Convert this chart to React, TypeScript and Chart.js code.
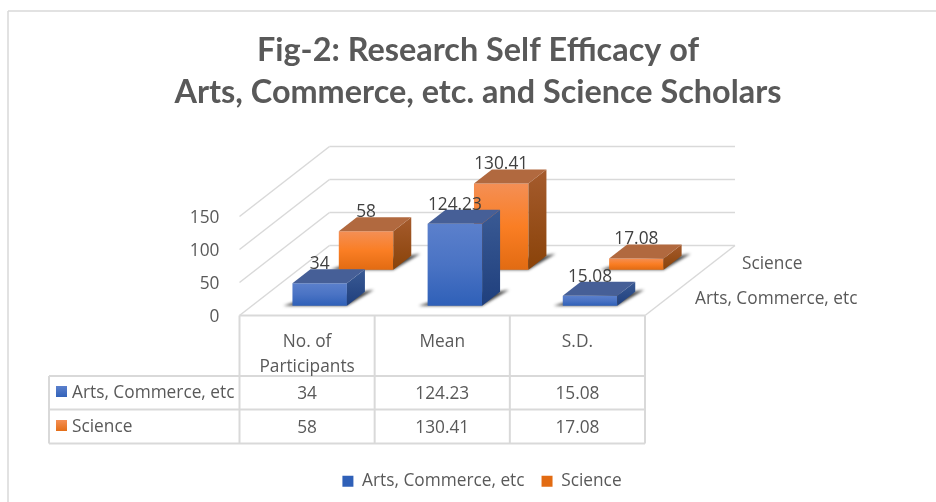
import React, { useEffect, useRef } from "react";
import { Chart, registerables } from "chart.js";

Chart.register(...registerables);

const categories = [["No. of", "Participants"], "Mean", "S.D."];
const seriesNames = ["Arts, Commerce, etc", "Science"];
const artsValues = [34, 124.23, 15.08];
const scienceValues = [58, 130.41, 17.08];
const yTicks = [0, 50, 100, 150];

const FLOOR = { dx: 90, dy: 70 };
const ROW_DEPTH = [0.14, 0.655];
const BAR_DEPTH = { dx: 18, dy: 14 };
const SANS = '"Open Sans", sans-serif';
const FONT_SIZE = 17.3;
const GRID = "#D9D9D9";
const TEXT = "#595959";

const PALETTE = [
  {
    flat: "#4472C4",
    front: ["#5B80CC", "#4A73C4", "#2F60B8"],
    top: "#465F97",
    side: ["#3A5A94", "#1F3F7D"],
  },
  {
    flat: "#F47B29",
    front: ["#F48F55", "#FA7E24", "#E26B12"],
    top: "#B1693F",
    side: ["#A55B2D", "#8A4309"],
  },
];

function line(ctx: any, x1: number, y1: number, x2: number, y2: number) {
  ctx.beginPath();
  ctx.moveTo(x1, y1);
  ctx.lineTo(x2, y2);
  ctx.stroke();
}

function poly(ctx: any, pts: number[][]) {
  ctx.beginPath();
  pts.forEach(([x, y], i) => (i ? ctx.lineTo(x, y) : ctx.moveTo(x, y)));
  ctx.closePath();
  ctx.fill();
}

const scene3d = {
  id: "scene3d",
  afterLayout(chart: any) {
    // the reference legend sits a little right of the title's centre
    chart.legend.left += 4;
    chart.legend.right += 4;
    chart.legend.top -= 2;
    chart.legend.bottom -= 2;
  },
  afterDatasetsUpdate(chart: any) {
    chart.data.datasets.forEach((_: any, i: number) => {
      const meta = chart.getDatasetMeta(i);
      const ox = FLOOR.dx * ROW_DEPTH[i];
      const oy = FLOOR.dy * ROW_DEPTH[i];
      meta.data.forEach((el: any) => {
        el.x += ox;
        el.y -= oy;
        el.base -= oy;
      });
    });
  },
  beforeDraw(chart: any) {
    const { ctx, chartArea: a, scales } = chart;
    ctx.save();
    ctx.fillStyle = "#FFFFFF";
    ctx.fillRect(0, 0, chart.width, chart.height);
    ctx.strokeStyle = GRID;
    ctx.lineWidth = 1.5;
    line(ctx, 8, 11, 8, chart.height);
    line(ctx, 8, 11, chart.width, 11);
    yTicks.forEach((v) => {
      const y = scales.y.getPixelForValue(v);
      line(ctx, a.left, y, a.left + FLOOR.dx, y - FLOOR.dy);
      line(ctx, a.left + FLOOR.dx, y - FLOOR.dy, a.right + FLOOR.dx, y - FLOOR.dy);
    });
    const y0 = scales.y.getPixelForValue(0);
    line(ctx, a.right, y0, a.right + FLOOR.dx, y0 - FLOOR.dy);

    // data table grid, built from the category scale
    const n = categories.length;
    const colW = (a.right - a.left) / n;
    const rowTops = [y0 + 60.5, y0 + 94, y0 + 128];
    ctx.lineWidth = 2;
    for (let c = 0; c <= n; c++) {
      const x = a.left + c * colW;
      line(ctx, x, y0, x, rowTops[2]);
    }
    line(ctx, a.left, y0, a.right, y0);
    rowTops.forEach((y) => line(ctx, 49, y, a.right, y));
    line(ctx, 49, rowTops[0], 49, rowTops[2]);
    ctx.restore();
  },
  beforeDatasetDraw(chart: any, args: any) {
    const { ctx } = chart;
    ctx.save();
    ctx.filter = "blur(1.5px)";
    ctx.fillStyle = "rgba(20,20,20,0.8)";
    args.meta.data.forEach((el: any) => {
      const l = el.x - el.width / 2;
      const r = el.x + el.width / 2;
      const b = el.base;
      poly(ctx, [
        [l - 9, b],
        [r, b],
        [r + 27, b - 16],
        [r + 16, b - 14],
        [l + 10, b - 6],
      ]);
    });
    ctx.restore();
  },
  afterDatasetDraw(chart: any, args: any) {
    const { ctx } = chart;
    const p = PALETTE[args.index];
    const { dx, dy } = BAR_DEPTH;
    ctx.save();
    args.meta.data.forEach((el: any) => {
      const l = el.x - el.width / 2;
      const r = el.x + el.width / 2;
      const t = el.y;
      const b = el.base;
      const sg = ctx.createLinearGradient(0, t - dy, 0, b);
      sg.addColorStop(0, p.side[0]);
      sg.addColorStop(1, p.side[1]);
      ctx.fillStyle = sg;
      poly(ctx, [
        [r, t],
        [r + dx, t - dy],
        [r + dx, b - dy],
        [r, b],
      ]);
      ctx.fillStyle = p.top;
      poly(ctx, [
        [l, t],
        [l + dx, t - dy],
        [r + dx, t - dy],
        [r, t],
      ]);
    });
    ctx.restore();
  },
  afterDatasetsDraw(chart: any) {
    const { ctx, scales } = chart;
    ctx.save();
    ctx.textBaseline = "middle";
    ctx.font = `${FONT_SIZE}px ${SANS}`;

    // value labels
    ctx.textAlign = "center";
    ctx.fillStyle = "#404040";
    chart.data.datasets.forEach((ds: any, i: number) => {
      chart.getDatasetMeta(i).data.forEach((el: any, k: number) => {
        ctx.fillText(String(ds.data[k]), el.x, el.y - 19);
      });
    });

    // series (depth) axis labels
    ctx.textAlign = "left";
    ctx.fillStyle = TEXT;
    ctx.fillText(seriesNames[1], 742, 264.5);
    ctx.fillText(seriesNames[0], 695, 299.5);

    // data table contents
    const y0 = scales.y.getPixelForValue(0);
    const rowMid = [y0 + 78.5, y0 + 112.5];
    chart.data.datasets.forEach((ds: any, i: number) => {
      ctx.textAlign = "center";
      ctx.fillStyle = TEXT;
      ds.data.forEach((v: number, k: number) => {
        ctx.fillText(String(v), scales.x.getPixelForValue(k), rowMid[i]);
      });
      ctx.textAlign = "left";
      ctx.fillText(ds.label, 72, rowMid[i] - 1);
      const g = ctx.createLinearGradient(0, rowMid[i] - 8, 0, rowMid[i] + 4);
      g.addColorStop(0, PALETTE[i].front[0]);
      g.addColorStop(1, PALETTE[i].front[2]);
      ctx.fillStyle = g;
      ctx.fillRect(56, rowMid[i] - 8, 11, 11);
    });
    ctx.restore();
  },
};

function frontFill(i: number) {
  return (c: any) => {
    const p = PALETTE[i];
    if (c.type !== "data") {
      const lg = c.chart.ctx.createLinearGradient(0, 473, 0, 484);
      lg.addColorStop(0, p.front[0]);
      lg.addColorStop(1, p.front[1]);
      return lg;
    }
    const sy = c.chart.scales.y;
    const oy = FLOOR.dy * ROW_DEPTH[i];
    const top = sy ? sy.getPixelForValue(c.raw) - oy : NaN;
    const bottom = sy ? sy.getPixelForValue(0) - oy : NaN;
    if (!Number.isFinite(top) || !Number.isFinite(bottom)) return p.flat;
    const g = c.chart.ctx.createLinearGradient(0, top, 0, bottom);
    g.addColorStop(0, p.front[0]);
    g.addColorStop(0.5, p.front[1]);
    g.addColorStop(1, p.front[2]);
    return g;
  };
}

export default function App() {
  const ref = useRef<HTMLCanvasElement | null>(null);
  useEffect(() => {
    const chart = new Chart(ref.current as HTMLCanvasElement, {
      type: "bar",
      data: {
        labels: categories as any,
        datasets: [
          { label: seriesNames[0], data: artsValues, backgroundColor: frontFill(0) as any },
          { label: seriesNames[1], data: scienceValues, backgroundColor: frontFill(1) as any },
        ],
      },
      plugins: [scene3d as any],
      options: {
        responsive: false,
        animation: false,
        layout: { padding: { left: 20, right: 0, top: 0, bottom: 0 } },
        datasets: {
          bar: {
            grouped: false,
            categoryPercentage: 1,
            barPercentage: 0.403,
            borderWidth: 0,
            clip: false,
          } as any,
        },
        plugins: {
          title: {
            display: true,
            text: ["Fig-2: Research Self Efficacy of", "Arts, Commerce, etc. and Science Scholars"],
            color: TEXT,
            font: { family: "Lato, sans-serif", weight: "bold", size: 32.4, lineHeight: 1.296 },
            padding: { top: 30, bottom: 102.5 },
          },
          legend: {
            position: "bottom",
            labels: {
              boxWidth: 11,
              boxHeight: 11,
              padding: 17,
              color: TEXT,
              font: { family: SANS, size: FONT_SIZE },
            },
          },
          tooltip: { enabled: false },
        },
        scales: {
          x: {
            type: "category",
            offset: true,
            grid: { display: false },
            border: { display: false },
            ticks: {
              color: TEXT,
              padding: 7,
              maxRotation: 0,
              autoSkip: false,
              font: { family: SANS, size: FONT_SIZE, lineHeight: 1.39 },
            },
            afterFit: (s: any) => {
              s.height = 142.2;
            },
          },
          y: {
            type: "linear",
            min: yTicks[0],
            max: yTicks[yTicks.length - 1],
            grid: { display: false, drawTicks: false },
            border: { display: false },
            ticks: {
              stepSize: 50,
              color: TEXT,
              padding: 20,
              labelOffset: 2,
              font: { family: SANS, size: FONT_SIZE },
            },
            afterFit: (s: any) => {
              s.width = 219.5;
            },
          },
          depth: {
            type: "linear",
            position: "right",
            min: 0,
            max: 1,
            grid: { display: false },
            border: { display: false },
            ticks: { display: false },
            afterFit: (s: any) => {
              s.width = 291;
            },
          },
        },
      } as any,
    });
    return () => chart.destroy();
  }, []);
  return (
    <div style={{ position: "fixed", left: 0, top: 0, width: 936, height: 502 }}>
      <canvas ref={ref} width={936} height={502} style={{ display: "block" }} />
    </div>
  );
}
